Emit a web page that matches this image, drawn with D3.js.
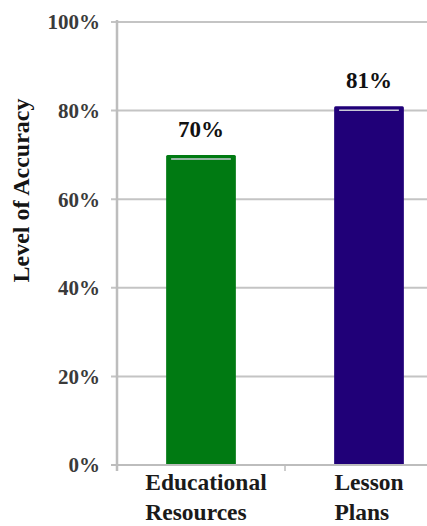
<!DOCTYPE html>
<html>
<head>
<meta charset="utf-8">
<script src="https://cdn.jsdelivr.net/npm/d3@7"></script>
<style>
  html, body { margin: 0; padding: 0; background: #fff; }
  svg { display: block; }
  text { font-family: "Liberation Serif", "DejaVu Serif", serif; font-weight: bold; }
</style>
</head>
<body>
<script>
// Accuracy by material type
const categories = ["Educational Resources", "Lesson Plans"];
const categoryLines = [["Educational", "Resources"], ["Lesson", "Plans"]];
const accuracy = [70, 81];
const barColors = ["#007a12", "#200078"];
const yTicks = [0, 20, 40, 60, 80, 100];
const yTitle = "Level of Accuracy";

const W = 427, H = 526;
const plot = { left: 117, right: 453, top: 22, bottom: 465 };

const svg = d3.select("body").append("svg")
  .attr("width", W).attr("height", H);

svg.append("rect").attr("width", W).attr("height", H).attr("fill", "#fff");

const x = d3.scaleBand().domain(categories).range([plot.left, plot.right]).padding(0);
const y = d3.scaleLinear().domain([0, 100]).range([plot.bottom, plot.top]);

const barW = x.bandwidth() * 0.415;

// Horizontal gridlines with outward ticks
const grid = svg.append("g");
grid.selectAll("line").data(yTicks).join("line")
  .attr("x1", plot.left - 6).attr("x2", plot.right)
  .attr("y1", d => y(d)).attr("y2", d => y(d))
  .attr("stroke", "#c4c4c4").attr("stroke-width", 2);

// Y tick labels
svg.append("g").selectAll("text").data(yTicks).join("text")
  .attr("x", plot.left - 17).attr("y", d => y(d))
  .attr("dy", "0.35em")
  .attr("text-anchor", "end")
  .attr("font-size", 21)
  .attr("fill", "#3a3a3a")
  .text(d => d + "%");

// Bars
const bars = svg.append("g");
bars.selectAll("rect").data(accuracy).join("rect")
  .attr("x", (d, i) => x(categories[i]) + x.bandwidth() / 2 - barW / 2)
  .attr("y", d => y(d))
  .attr("width", barW)
  .attr("height", d => y(0) - y(d))
  .attr("rx", 1.5)
  .attr("fill", (d, i) => barColors[i]);

// Light highlight line just inside each bar's top edge
bars.selectAll("line").data(accuracy).join("line")
  .attr("x1", (d, i) => x(categories[i]) + x.bandwidth() / 2 - barW / 2 + 5)
  .attr("x2", (d, i) => x(categories[i]) + x.bandwidth() / 2 + barW / 2 - 5)
  .attr("y1", d => y(d) + 4).attr("y2", d => y(d) + 4)
  .attr("stroke", "#c9c9d6").attr("stroke-width", 1.5);

// Value labels
svg.append("g").selectAll("text").data(accuracy).join("text")
  .attr("x", (d, i) => x(categories[i]) + x.bandwidth() / 2)
  .attr("y", d => y(d) - 18)
  .attr("text-anchor", "middle")
  .attr("font-size", 23)
  .attr("fill", "#111")
  .text(d => d + "%");

// Axes lines
svg.append("line")
  .attr("x1", plot.left).attr("x2", plot.left)
  .attr("y1", plot.top - 2).attr("y2", plot.bottom + 6)
  .attr("stroke", "#bdbdbd").attr("stroke-width", 2.5);
svg.append("line")
  .attr("x1", plot.left - 6).attr("x2", plot.right)
  .attr("y1", plot.bottom).attr("y2", plot.bottom)
  .attr("stroke", "#bdbdbd").attr("stroke-width", 2);
// Category divider tick
svg.append("line")
  .attr("x1", x(categories[1])).attr("x2", x(categories[1]))
  .attr("y1", plot.bottom).attr("y2", plot.bottom + 6)
  .attr("stroke", "#bdbdbd").attr("stroke-width", 1.5);

// Category labels: two left-aligned lines under each bar
categoryLines.forEach((lines, i) => {
  const g = svg.append("g");
  const t = g.selectAll("text").data(lines).join("text")
    .attr("y", (d, j) => 490 + j * 30)
    .attr("font-size", 23.5)
    .attr("fill", "#1a1a1a")
    .text(d => d);
  const wMax = d3.max(t.nodes(), n => n.getComputedTextLength());
  t.attr("x", x(categories[i]) + x.bandwidth() / 2 - wMax / 2 + (i === 0 ? 5 : 0));
});

// Y axis title
svg.append("text")
  .attr("transform", `translate(29, ${(93 + 288) / 2}) rotate(-90)`)
  .attr("text-anchor", "middle")
  .attr("font-size", 24)
  .attr("fill", "#141414")
  .text(yTitle);
</script>
</body>
</html>
